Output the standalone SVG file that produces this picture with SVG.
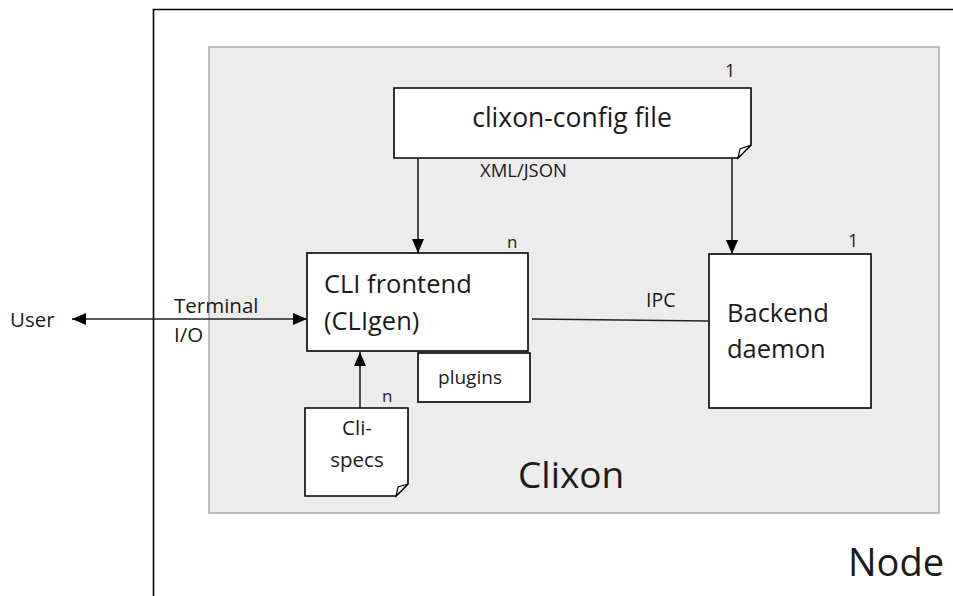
<svg xmlns="http://www.w3.org/2000/svg" width="953" height="596" viewBox="0 0 953 596">
<defs>
<marker id="ah" markerWidth="14" markerHeight="12" refX="14" refY="6" orient="auto-start-reverse" markerUnits="userSpaceOnUse">
<path d="M0,0 L14,6 L0,12 Z" fill="#000"/>
</marker>
<style>
text{font-family:"Open Sans","Noto Sans","Liberation Sans",sans-serif;fill:#1a1a1a}
.box{fill:#fff;stroke:#000;stroke-width:1.6}
.con{stroke:#222;stroke-width:1.6;fill:none}
.fold{fill:#fff;stroke:#000;stroke-width:1.2}
</style>
</defs>
<rect width="953" height="596" fill="#fff"/>
<g id="node">
<path d="M153.5,596 V9.5 H953" fill="none" stroke="#000" stroke-width="1.6"/>
<text x="848" y="576" font-size="38">Node</text>
</g>
<g id="clixon">
<rect x="209" y="47" width="730" height="466" fill="#ececec" stroke="#aaa" stroke-width="1.5"/>
<text x="518" y="488" font-size="37">Clixon</text>
</g>
<g id="config">
<path class="box" d="M394,88 H751 V145 L738,158 H394 Z"/>
<path class="fold" d="M751,145 L740,149 L738,158 Z"/>
<text x="572" y="127" font-size="26.5" text-anchor="middle">clixon-config file</text>
<text x="725" y="77" font-size="18">1</text>
</g>
<g id="cli">
<rect class="box" x="307" y="253" width="221" height="98"/>
<text x="324" y="293" font-size="25.5">CLI frontend</text>
<text x="324" y="330" font-size="25.5">(CLIgen)</text>
<text x="507" y="248" font-size="17">n</text>
</g>
<g id="plugins">
<rect class="box" x="418" y="353" width="112" height="49"/>
<text x="470" y="384" font-size="19" text-anchor="middle">plugins</text>
</g>
<g id="clispecs">
<path class="box" d="M305,408 H408 V484 L396,496 H305 Z"/>
<path class="fold" d="M408,484 L398,487 L396,496 Z"/>
<text x="357" y="435" font-size="20.5" text-anchor="middle">Cli-</text>
<text x="357" y="467" font-size="20.5" text-anchor="middle">specs</text>
<text x="382" y="402" font-size="17">n</text>
</g>
<g id="backend">
<rect class="box" x="709" y="254" width="162" height="154"/>
<text x="727" y="322" font-size="25.5">Backend</text>
<text x="727" y="358" font-size="25.5">daemon</text>
<text x="848" y="247" font-size="18">1</text>
</g>
<g id="user">
<text x="10" y="327" font-size="20.5">User</text>
</g>
<g id="connectors">
<line class="con" x1="418" y1="158" x2="418" y2="253" marker-end="url(#ah)"/>
<line class="con" x1="732" y1="158" x2="732" y2="254" marker-end="url(#ah)"/>
<line class="con" x1="72" y1="319" x2="307" y2="319" marker-start="url(#ah)" marker-end="url(#ah)"/>
<line class="con" x1="532" y1="319" x2="709" y2="321"/>
<line class="con" x1="360" y1="408" x2="360" y2="352" marker-end="url(#ah)"/>
<text x="480" y="177" font-size="17.5" textLength="87" lengthAdjust="spacingAndGlyphs">XML/JSON</text>
<text x="174" y="313" font-size="20.5">Terminal</text>
<text x="174" y="342" font-size="20.5">I/O</text>
<text x="646" y="307" font-size="19.5">IPC</text>
</g>
</svg>
